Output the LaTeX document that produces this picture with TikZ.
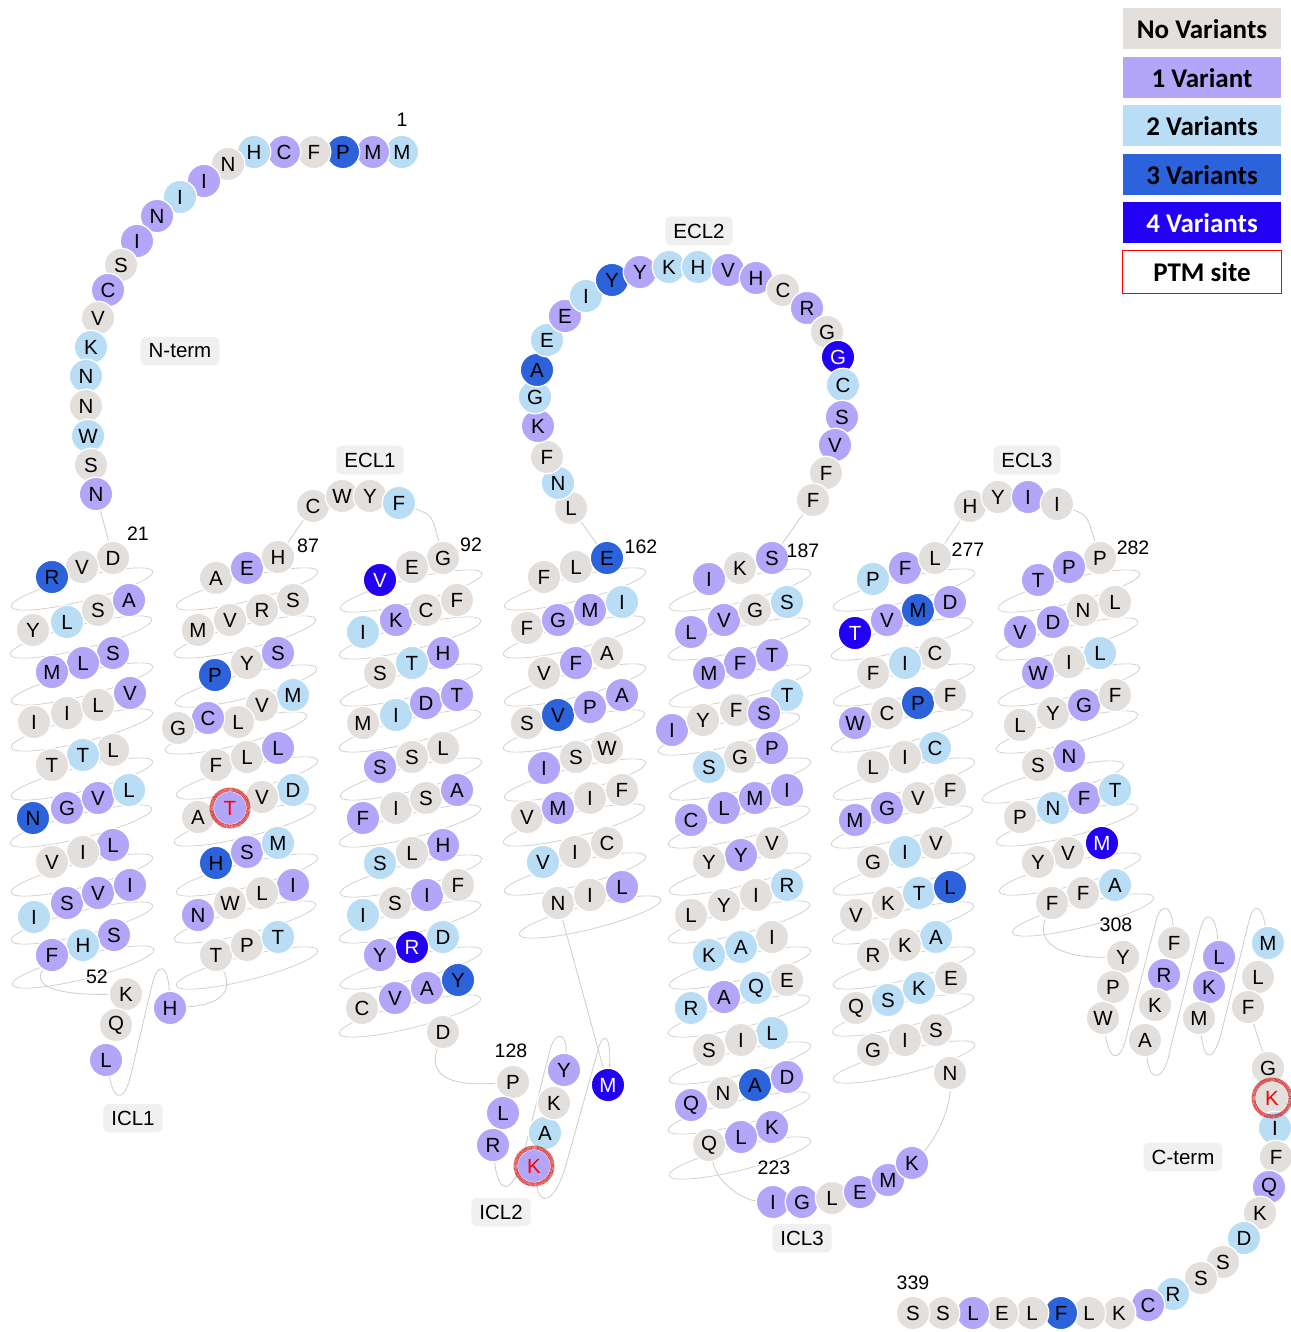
\documentclass[tikz,border=0pt]{standalone}
\usepackage{fontspec}
\setmainfont{Liberation Sans}
\newfontfamily\legfont{Carlito}
\usetikzlibrary{backgrounds}
\definecolor{col0}{HTML}{E3DFDD}
\definecolor{col1}{HTML}{B3A6F8}
\definecolor{col2}{HTML}{B8DDF5}
\definecolor{col3}{HTML}{2C63DB}
\definecolor{col4}{HTML}{2200F3}
\colorlet{col5}{col1}
\colorlet{col6}{col0}
\colorlet{txt0}{black}
\colorlet{txt1}{black}
\colorlet{txt2}{black}
\colorlet{txt3}{black}
\colorlet{txt4}{white}
\colorlet{txt5}{red}
\colorlet{txt6}{red}
\definecolor{lblbg}{HTML}{F0F0F0}
\definecolor{linegray}{HTML}{CDCDCD}
\begin{document}
\begin{tikzpicture}[x=1pt,y=-1pt,
  res/.style={circle,minimum size=33.5pt,inner sep=0pt,draw=white,line width=1.3pt,
    fill=col#1,text=txt#1,font=\fontsize{20.5}{21}\selectfont},
  ptmring/.style={draw=red!80!black,opacity=0.75,line width=4pt,dash pattern=on 0.7pt off 0.5pt},
  helix/.style={draw=linegray,line width=0.7pt},
  conn/.style={draw=linegray,line width=0.8pt},
  lbl/.style={fill=lblbg,rounded corners=5pt,inner xsep=8pt,inner ysep=7pt,font=\fontsize{20.5}{21}\selectfont},
  num/.style={font=\fontsize{19.5}{20}\selectfont,inner sep=1pt},
  leg/.style={minimum width=159pt,minimum height=42pt,inner sep=0pt,draw=white,line width=1pt,
    font=\legfont\bfseries\fontsize{27}{28}\selectfont}]
\useasboundingbox (0,0) rectangle (1290,1332);
\begin{pgfonlayer}{background}
\fill[white] (0,0) rectangle (1290,1332);
\end{pgfonlayer}

% N-term
\foreach \x/\y/\c/\t [count=\i] in {402/152/2/M, 373/152/1/M, 343/152/3/P, 314/152/0/F, 284/152/1/C, 254/152/2/H, 228/164/0/N, 204/181/1/I, 180/197/2/I, 157/216/1/N, 137/241/1/I, 121/265/0/S, 108/290/1/C, 98/318/0/V, 91/347/2/K, 86/376/2/N, 86/406/0/N, 88/436/2/W, 91/465/0/S, 96/494/1/N}
  {\node[res=\c] (nt\i) at (\x,\y) {\t};}
% TM1
\foreach \x/\y/\c/\t [count=\i] in {113/558/0/D, 82/567/0/V, 52/577/3/R,
33/630/0/Y, 67/622/2/L, 98/610/0/S, 129/600/1/A,
113/653/1/S, 83/663/1/L, 52/672/1/M,
34/722/0/I, 67/713/0/I, 98/705/0/L, 130/693/1/V,
113/750/0/L, 83/755/2/T, 52/765/0/T,
33/818/3/N, 67/808/1/G, 98/798/1/V, 129/790/2/L,
113/845/1/L, 83/852/0/I, 52/862/0/V,
34/917/2/I, 67/903/1/S, 98/893/1/V, 130/885/1/I,
114/935/1/S, 83/945/2/H, 52/955/1/F}
  {\node[res=\c] (ta\i) at (\x,\y) {\t};}
% ICL1
\foreach \x/\y/\c/\t [count=\i] in {126/994/0/K, 116/1025/0/Q, 106/1060/1/L, 170/1008/1/H}
  {\node[res=\c] (ia\i) at (\x,\y) {\t};}
% TM2
\foreach \x/\y/\c/\t [count=\i] in {216/955/0/T, 247/945/0/P, 278/937/2/T,
293/885/1/I, 262/893/0/L, 230/903/0/W, 198/915/1/N,
216/863/3/H, 247/852/1/S, 278/843/2/M,
293/790/2/D, 262/797/0/V, 230/808/5/T, 198/817/0/A,
216/765/0/F, 247/757/0/L, 278/748/1/L,
293/695/2/M, 262/705/0/V, 238/722/0/L, 208/718/1/C, 178/728/0/G,
215/675/3/P, 247/663/0/Y, 278/653/1/S,
293/600/0/S, 262/610/0/R, 230/620/0/V, 198/630/0/M,
216/578/0/A, 247/568/1/E, 278/557/0/H}
  {\node[res=\c] (tb\i) at (\x,\y) {\t};}
% ECL1
\foreach \x/\y/\c/\t [count=\i] in {313/506/0/C, 342/496/0/W, 370/496/0/Y, 399/503/2/F}
  {\node[res=\c] (ea\i) at (\x,\y) {\t};}
% TM3
\foreach \x/\y/\c/\t [count=\i] in {443/558/0/G, 412/567/0/E, 380/580/4/V,
363/632/2/I, 396/620/1/K, 426/610/0/C, 457/600/0/F,
443/653/1/H, 412/663/2/T, 380/673/0/S,
363/723/0/M, 396/715/2/I, 426/703/1/D, 457/695/1/T,
443/748/0/L, 412/757/0/S, 380/767/1/S,
363/818/1/F, 396/808/0/I, 426/798/0/S, 457/790/1/A,
443/845/1/H, 412/853/0/L, 380/863/2/S,
363/915/2/I, 395/903/0/S, 427/895/1/I, 458/885/0/F,
443/937/2/D, 412/947/4/R, 380/955/1/Y,
362/1008/0/C, 395/998/1/V, 427/988/1/A, 458/980/3/Y,
443/1032/0/D}
  {\node[res=\c] (tc\i) at (\x,\y) {\t};}
% ICL2
\foreach \x/\y/\c/\t [count=\i] in {513/1082/0/P, 503/1113/1/L, 493/1145/1/R, 534/1166/5/K, 545/1133/2/A, 554/1103/0/K, 564/1070/1/Y, 608/1085/4/M}
  {\node[res=\c] (ib\i) at (\x,\y) {\t};}
% TM4
\foreach \x/\y/\c/\t [count=\i] in {558/903/0/N, 590/895/0/I, 622/887/1/L,
607/843/0/C, 575/852/0/I, 543/862/2/V,
527/817/0/V, 558/808/1/M, 590/798/0/I, 622/790/0/F,
607/748/0/W, 576/757/0/S, 544/768/1/I,
527/723/0/S, 558/715/3/V, 590/707/1/P, 622/695/1/A,
607/653/0/A, 576/663/1/F, 544/673/0/V,
527/628/0/F, 558/620/1/G, 590/610/1/M, 622/602/2/I,
544/577/0/F, 576/567/0/L, 607/558/3/E}
  {\node[res=\c] (td\i) at (\x,\y) {\t};}
% ECL2
\foreach \x/\y/\c/\t [count=\i] in {571/508/0/L, 558/483/2/N, 547/457/0/F, 538/426/1/K, 535/397/2/G, 537/370/3/A, 547/340/2/E, 565/316/1/E, 586/296/2/I, 612/280/3/Y, 640/272/1/Y, 669/267/2/K, 698/267/2/H, 728/270/1/V, 756/278/1/H, 783/290/0/C, 807/308/1/R, 827/332/0/G, 838/357/4/G, 843/385/2/C, 842/417/1/S, 835/445/1/V, 826/473/0/F, 813/500/0/F}
  {\node[res=\c] (eb\i) at (\x,\y) {\t};}
% TM5
\foreach \x/\y/\c/\t [count=\i] in {772/558/1/S, 740/568/0/K, 709/579/1/I,
691/632/1/L, 724/620/1/V, 755/610/0/G, 787/602/2/S,
772/655/1/T, 740/663/1/F, 709/673/1/M,
672/730/1/I, 703/720/0/Y, 736/710/0/F, 787/695/2/T, 764/713/1/S,
772/748/1/P, 740/757/0/G, 709/767/2/S,
691/820/1/C, 724/808/1/L, 755/798/1/M, 787/790/1/I,
772/843/0/V, 741/855/1/Y, 709/862/0/Y,
691/915/0/L, 724/905/0/Y, 756/895/0/I, 787/885/2/R,
772/937/0/I, 741/947/2/A, 709/955/2/K,
691/1008/2/R, 724/997/1/A, 756/988/2/Q, 787/980/0/E,
772/1033/2/L, 741/1040/0/I, 709/1050/0/S,
691/1105/1/Q, 723/1093/0/N, 755/1085/3/A, 787/1077/1/D,
772/1127/1/K, 741/1137/1/L, 709/1145/0/Q}
  {\node[res=\c] (te\i) at (\x,\y) {\t};}
% ICL3
\foreach \x/\y/\c/\t [count=\i] in {773/1202/1/I, 802/1202/1/G, 832/1198/0/L, 860/1192/1/E, 888/1180/1/M, 912/1163/1/K}
  {\node[res=\c] (ic\i) at (\x,\y) {\t};}
% TM6
\foreach \x/\y/\c/\t [count=\i] in {950/1073/0/N,
936/1030/0/S, 905/1040/0/I, 873/1050/0/G,
856/1008/0/Q, 888/1000/2/S, 919/988/2/K, 951/978/0/E,
936/937/2/A, 905/945/0/K, 873/955/0/R,
856/915/0/V, 888/903/0/K, 919/893/2/T, 950/887/3/L,
936/843/0/V, 905/852/2/I, 873/862/0/G,
855/820/1/M, 887/808/1/G, 918/798/0/V, 950/790/0/F,
935/748/2/C, 905/757/0/I, 873/767/0/L,
855/723/1/W, 887/713/0/C, 918/703/3/P, 950/695/0/F,
935/653/0/C, 905/663/2/I, 873/673/0/F,
855/633/4/T, 887/620/1/V, 918/610/3/M, 950/602/1/D,
873/579/2/P, 905/568/1/F, 935/558/0/L}
  {\node[res=\c] (tf\i) at (\x,\y) {\t};}
% ECL3
\foreach \x/\y/\c/\t [count=\i] in {970/506/0/H, 998/497/0/Y, 1028/497/1/I, 1057/504/0/I}
  {\node[res=\c] (ec\i) at (\x,\y) {\t};}
% TM7
\foreach \x/\y/\c/\t [count=\i] in {1100/558/0/P, 1069/567/1/P, 1038/580/1/T,
1020/632/1/V, 1053/622/1/D, 1083/610/0/N, 1115/602/0/L,
1100/653/2/L, 1069/662/0/I, 1038/673/1/W,
1020/725/0/L, 1053/713/0/Y, 1084/705/1/G, 1115/695/0/F,
1069/756/1/N, 1038/765/0/S,
1020/817/0/P, 1053/808/2/N, 1084/798/1/F, 1115/790/2/T,
1102/843/4/M, 1068/853/0/V, 1038/862/0/Y,
1115/885/2/A, 1083/893/0/F, 1052/903/0/F}
  {\node[res=\c] (tg\i) at (\x,\y) {\t};}
% H8 and C-term
\foreach \x/\y/\c/\t [count=\i] in {1123/957/0/Y, 1113/987/0/P, 1103/1018/0/W,
1174/943/0/F, 1164/975/1/R, 1155/1005/0/K, 1145/1040/0/A,
1219/957/1/L, 1209/987/1/K, 1199/1018/0/M,
1268/943/2/M, 1258/977/0/L, 1248/1007/0/F,
1268/1068/0/G, 1272/1098/6/K, 1275/1128/2/I,
1276/1157/0/F, 1269/1187/1/Q, 1260/1213/0/K, 1244/1238/2/D, 1223/1262/0/S, 1201/1278/0/S, 1173/1294/2/R, 1148/1305/1/C, 1119/1313/0/K, 1089/1313/0/L, 1061/1313/3/F, 1032/1313/0/L, 1002/1313/0/E, 973/1313/1/L, 943/1313/0/S, 913/1313/0/S}
  {\node[res=\c] (ct\i) at (\x,\y) {\t};}

% PTM rings
\foreach \n in {tb13,ib4,ct15}
  {\draw[ptmring] (\n.center) circle (18.5pt);}

% helix outlines and connectors
\begin{pgfonlayer}{background}
\foreach \x/\y in {82/567, 81/615, 82/662, 82/708, 82/757, 81/804, 82/853, 82/901, 83/945,
  247/946, 245/900, 247/853, 245/803, 247/756, 236/711, 246/664, 245/615, 247/567,
  411/569, 410/616, 411/663, 410/709, 411/757, 410/804, 411/854, 410/900, 411/946, 410/994,
  590/895, 575/852, 574/803, 575/758, 574/709, 575/663, 574/615, 575/567,
  740/568, 739/617, 740/664, 729/712, 740/757, 739/805, 740/852, 739/900, 740/946, 739/994, 740/1041, 739/1091, 740/1136,
  904/1040, 903/993, 904/946, 903/901, 904/852, 902/805, 904/757, 902/709, 904/663, 902/617, 904/568,
  1069/569, 1067/617, 1069/663, 1067/710, 1053/760, 1067/803, 1070/852, 1083/893}
  {\draw[helix, rotate around={14:(\x,{\y+22})}] (\x,{\y+22}) ellipse (73pt and 12pt);}
\draw[conn] (nt20) -- (ta1);
\draw[conn] (ta31) .. controls (30,990) and (70,995) .. (ia1);
\draw[conn] (ia3) .. controls (115,1105) and (126,1100) .. (132,1070) -- (152,985) .. controls (158,960) and (168,965) .. (ia4);
\draw[conn] (ia4) .. controls (215,1005) and (235,995) .. (tb1);
\draw[conn] (tb32) -- (ea1);
\draw[conn] (ea4) .. controls (432,515) .. (tc1);
\draw[conn] (tc36) .. controls (425,1085) and (470,1085) .. (ib1);
\draw[conn] (ib3) .. controls (498,1195) and (512,1195) .. (522,1160) -- (550,1050) .. controls (556,1028) and (568,1035) .. (ib7);
\draw[conn] (ib4) .. controls (540,1210) and (556,1200) .. (566,1165) -- (598,1050) .. controls (603,1030) and (612,1035) .. (ib8);
\draw[conn] (ib8) -- (td1);
\draw[conn] (td27) -- (eb1);
\draw[conn] (eb24) -- (te1);
\draw[conn] (te46) .. controls (718,1185) and (745,1200) .. (ic1);
\draw[conn] (ic6) .. controls (935,1140) and (950,1110) .. (tf1);
\draw[conn] (tf39) -- (ec1);
\draw[conn] (ec4) .. controls (1087,515) .. (tg1);
\draw[conn] (tg26) .. controls (1035,945) and (1065,958) .. (ct1);
\draw[conn] (ct3) .. controls (1110,1065) and (1122,1062) .. (1128,1030) -- (1155,925) .. controls (1160,900) and (1172,905) .. (ct4);
\draw[conn] (ct7) .. controls (1150,1085) and (1165,1080) .. (1170,1050) -- (1200,930) .. controls (1206,908) and (1216,915) .. (ct8);
\draw[conn] (ct10) .. controls (1205,1065) and (1215,1060) .. (1222,1030) -- (1248,925) .. controls (1253,900) and (1262,905) .. (ct11);
\draw[conn] (ct13) -- (ct14);
\end{pgfonlayer}

% region labels
\node[lbl] (lnterm) at (180,351) {N-term};
\node[lbl] (lecl1) at (370,460) {ECL1};
\node[lbl] (lecl2) at (699,231) {ECL2};
\node[lbl] (lecl3) at (1027,460) {ECL3};
\node[lbl] (licl1) at (133,1118) {ICL1};
\node[lbl] (licl2) at (501,1212) {ICL2};
\node[lbl] (licl3) at (802,1238) {ICL3};
\node[lbl] (lcterm) at (1183,1157) {C-term};

% numbers
\node[num] (k1) at (402,120) {1};
\node[num] (k21) at (138,534) {21};
\node[num] (k52) at (97,977) {52};
\node[num] (k87) at (308,546) {87};
\node[num] (k92) at (471,545) {92};
\node[num] (k128) at (511,1051) {128};
\node[num] (k162) at (641,547) {162};
\node[num] (k187) at (803,551) {187};
\node[num] (k223) at (774,1168) {223};
\node[num] (k277) at (968,550) {277};
\node[num] (k282) at (1133,548) {282};
\node[num] (k308) at (1116,925) {308};
\node[num] (k339) at (913,1283) {339};

% legend
\node[leg,fill=col0] (g0) at (1202,29) {No Variants};
\node[leg,fill=col1] (g1) at (1202,78) {1 Variant};
\node[leg,fill=col2] (g2) at (1202,126) {2 Variants};
\node[leg,fill=col3] (g3) at (1202,175) {3 Variants};
\node[leg,fill=col4,text=white] (g4) at (1202,223) {4 Variants};
\node[leg,fill=white,draw=red] (g5) at (1202,272) {PTM site};
\end{tikzpicture}
\end{document}
